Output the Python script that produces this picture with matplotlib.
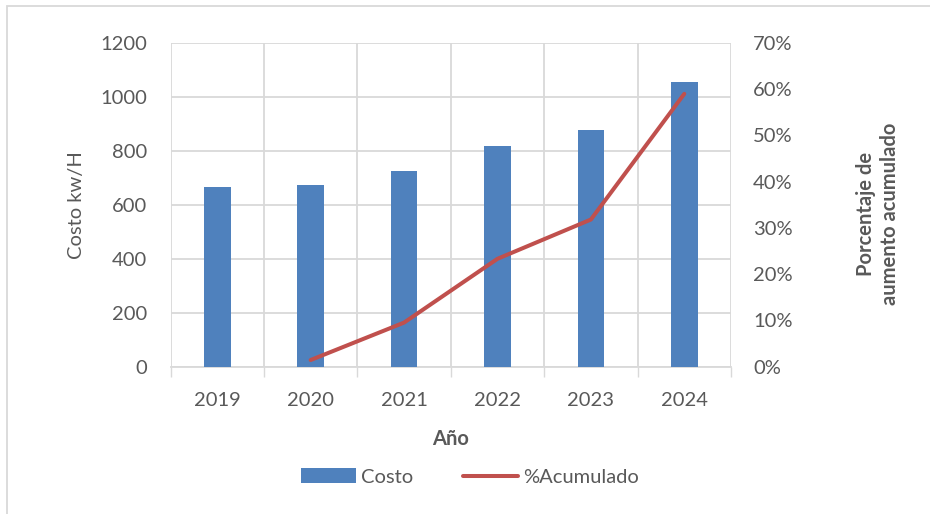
import matplotlib
matplotlib.use("Agg")
import matplotlib.pyplot as plt
from matplotlib.lines import Line2D
from matplotlib.patches import Patch, Rectangle
from matplotlib.ticker import FixedLocator, FuncFormatter

years = ["2019", "2020", "2021", "2022", "2023", "2024"]
costo = [664, 673, 727, 818, 876, 1055]
acum_years = ["2020", "2021", "2022", "2023", "2024"]
acumulado = [1.4, 9.5, 23.3, 31.8, 59.0]  # percent

plt.rcParams['font.family'] = ['Lato', 'DejaVu Sans']
TXT = '#595959'
GRID = '#d9d9d9'
FS = 14.5

fig = plt.figure(figsize=(9.3, 5.14), dpi=100)
ax = fig.add_axes([170.5/930, 1-366.5/514, (731-170.5)/930, (366.5-43)/514])
ax2 = ax.twinx()

x = list(range(len(years)))
ax.bar(x, costo, width=0.285, color='#4F81BD', zorder=3)
xa = [years.index(y) for y in acum_years]
ax2.plot(xa, [v/100 for v in acumulado], color='#C0504D', lw=2.9, solid_capstyle='round', zorder=4)

ax.set_xlim(-0.5, len(years)-0.5)
ax.set_ylim(0, 1200)
ax.set_yticks(range(0, 1201, 200))
ax2.set_ylim(0, 0.7)
ax2.set_yticks([i/10 for i in range(8)])
ax2.yaxis.set_major_formatter(FuncFormatter(lambda v, p: f"{v*100:.0f}%"))

ax.set_xticks(x)
ax.set_xticklabels(years)
ax.xaxis.set_minor_locator(FixedLocator([i-0.5 for i in range(len(years)+1)]))
ax.tick_params(axis='x', which='major', length=0, pad=18, labelsize=FS, labelcolor=TXT)
ax.tick_params(axis='x', which='minor', length=7, width=1, color=GRID)
ax.tick_params(axis='y', length=0, pad=17, labelsize=FS, labelcolor=TXT)
ax2.tick_params(axis='y', length=0, pad=16, labelsize=FS, labelcolor=TXT)

ax.grid(True, which='minor', axis='x', color=GRID, lw=1.3, zorder=0)
ax.grid(True, which='major', axis='y', color=GRID, lw=1.3, zorder=0)
for s in ['top', 'left', 'right']:
    ax.spines[s].set_visible(False)
    ax2.spines[s].set_visible(False)
ax.spines['bottom'].set_color(GRID)
ax.spines['bottom'].set_linewidth(1.3)
ax2.spines['bottom'].set_visible(False)
ax.set_axisbelow(True)

ax.set_ylabel("Costo kw/H", fontsize=FS, color=TXT, labelpad=11)
ax.set_xlabel("Año", fontsize=FS, color=TXT, fontweight='bold', labelpad=15)
fig.text(878/930, 1-214/514, "Porcentaje de\naumento acumulado", rotation=90,
         ha='center', va='center', fontsize=FS, fontweight='bold', color=TXT,
         linespacing=1.2, multialignment='center')

handles = [Patch(facecolor='#4F81BD', edgecolor='none'),
           Line2D([0], [0], color='#C0504D', lw=2.9, solid_capstyle='round')]
fig.legend(handles, ["Costo", "%Acumulado"], loc='center', ncol=2,
           bbox_to_anchor=(470/930, 1-477/514), frameon=False, fontsize=FS,
           labelcolor=TXT, handlelength=2.7, handleheight=0.7, columnspacing=2.5,
           handletextpad=0.25)

fig.patches.append(Rectangle((7/930, -0.1), 1.2, 1-6/514+0.1, transform=fig.transFigure,
                             fill=False, edgecolor=GRID, lw=1.3))

fig.savefig("out.png", dpi=100)
